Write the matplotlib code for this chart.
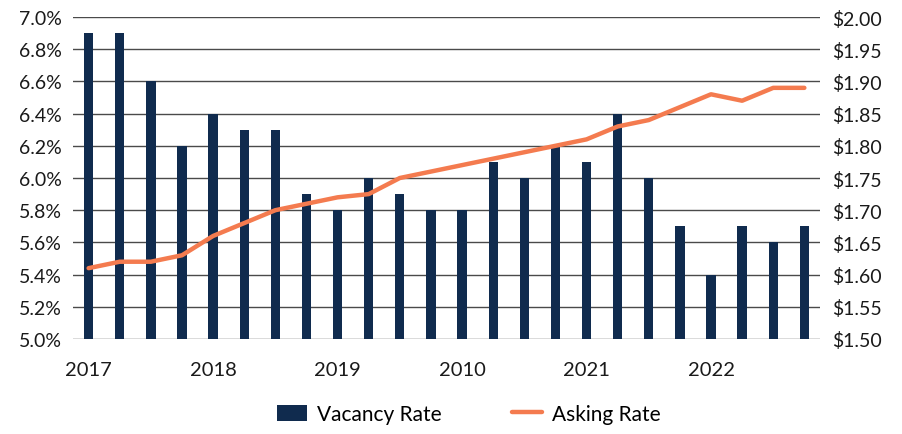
import matplotlib
matplotlib.use("Agg")
import matplotlib.pyplot as plt
from matplotlib.ticker import FuncFormatter
import numpy as np

plt.rcParams['font.family'] = ['Lato', 'DejaVu Sans']

quarters = [f"{y}Q{q}" for y in range(2017, 2023) for q in range(1, 5)]
vacancy = [6.9, 6.9, 6.6, 6.2, 6.4, 6.3, 6.3, 5.9, 5.8, 6.0, 5.9, 5.8,
           5.8, 6.1, 6.0, 6.2, 6.1, 6.4, 6.0, 5.7, 5.4, 5.7, 5.6, 5.7]
asking = [1.61, 1.62, 1.62, 1.63, 1.66, 1.68, 1.70, 1.71, 1.72, 1.725, 1.75, 1.76,
          1.77, 1.78, 1.79, 1.80, 1.81, 1.83, 1.84, 1.86, 1.88, 1.87, 1.89, 1.89]
year_labels = ["2017", "2018", "2019", "2010", "2021", "2022"]

navy = "#102B4E"
orange = "#F47B4F"

fig = plt.figure(figsize=(9.02, 4.35), dpi=100)
ax = fig.add_axes([0.081, 0.2184, 0.828, 0.7402])
ax2 = ax.twinx()

x = np.arange(len(quarters))
ax.bar(x, vacancy, width=0.3, color=navy, zorder=3, label="Vacancy Rate")
ax2.plot(x, asking, color=orange, lw=3.2, zorder=4, label="Asking Rate",
         solid_capstyle='round', solid_joinstyle='round')

ax.set_xlim(-0.5, len(quarters) - 0.5)
ax.set_ylim(5.0, 7.0)
ax2.set_ylim(1.50, 2.00)
ax.set_yticks(np.arange(5.0, 7.01, 0.2))
ax2.set_yticks(np.arange(1.50, 2.001, 0.05))
ax.yaxis.set_major_formatter(FuncFormatter(lambda v, p: f"{v:.1f}%"))
ax2.yaxis.set_major_formatter(FuncFormatter(lambda v, p: f"${v:.2f}"))
ax.set_xticks(x[::4])
ax.set_xticklabels(year_labels)

ax.grid(axis='y', color='#4a4a4a', lw=1.0, zorder=0)
ax.set_axisbelow(True)
for a in (ax, ax2):
    for s in a.spines.values():
        s.set_visible(False)
    a.tick_params(length=0, labelsize=14, colors='#1a1a1a')
ax.tick_params(axis='x', labelsize=14.5, pad=16)
ax.tick_params(axis='y', pad=8)
ax2.tick_params(axis='y', pad=9)

h1, l1 = ax.get_legend_handles_labels()
h2, l2 = ax2.get_legend_handles_labels()
fig.legend(h1 + h2, l1 + l2, loc='lower center', bbox_to_anchor=(0.52, -0.02),
           ncol=2, frameon=False, fontsize=15, columnspacing=3.4,
           handlelength=1.4, handleheight=0.8, handletextpad=0.5)

fig.savefig("out.png", dpi=100)
